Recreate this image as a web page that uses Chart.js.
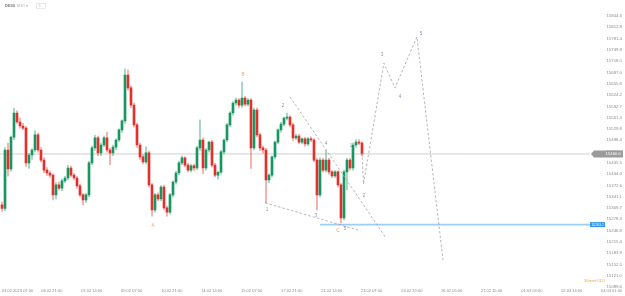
<!DOCTYPE html>
<html>
<head>
<meta charset="utf-8">
<script src="https://cdn.jsdelivr.net/npm/chart.js@4"></script>
<style>
  html, body { margin: 0; padding: 0; background: #fff; }
  canvas { display: block; }
</style>
</head>
<body>
<canvas id="chart" width="625" height="296"></canvas>
<script>
// candles, one per bar index
const candleOpen = [15318,15308,15471,15418,15507,15574,15549,15538,15532,15435,15457,15471,15513,15471,15443,15415,15407,15401,15346,15374,
  15365,15385,15393,15421,15401,15393,15371,15346,15332,15346,15435,15477,15505,15463,15485,15505,15471,15463,15479,15499,
  15527,15552,15680,15644,15596,15541,15485,15452,15438,15463,15374,15304,15346,15335,15368,15310,15298,15346,15382,15407,
  15435,15449,15429,15415,15427,15421,15477,15499,15421,15471,15493,15429,15401,15409,15466,15499,15541,15574,15602,15610,
  15596,15616,15599,15610,15477,15582,15513,15477,15471,15388,15401,15452,15493,15527,15543,15560,15563,15541,15505,15510,
  15493,15502,15488,15502,15499,15443,15346,15443,15415,15443,15410,15399,15410,15374,15282,15410,15443,15421,15485,15493,15490];
const candleHigh = [15326,15478,15490,15510,15588,15580,15560,15545,15536,15462,15475,15525,15518,15478,15450,15422,15412,15405,15380,15382,
  15390,15398,15428,15426,15406,15398,15376,15350,15350,15440,15482,15512,15510,15490,15510,15520,15476,15485,15502,15530,
  15555,15697,15694,15650,15602,15546,15490,15458,15480,15468,15378,15350,15352,15372,15373,15315,15350,15385,15412,15440,
  15455,15452,15434,15432,15432,15482,15555,15505,15476,15496,15498,15434,15412,15470,15502,15545,15578,15605,15616,15614,
  15660,15620,15614,15614,15588,15588,15518,15482,15476,15405,15455,15496,15530,15548,15563,15574,15566,15546,15515,15515,
  15505,15506,15506,15508,15503,15448,15450,15448,15471,15448,15414,15414,15414,15378,15415,15448,15448,15490,15500,15500,15494];
const candleLow = [15300,15302,15398,15412,15500,15545,15532,15528,15425,15420,15445,15465,15465,15438,15408,15400,15395,15332,15335,15360,
  15358,15380,15388,15396,15388,15365,15340,15318,15325,15340,15430,15470,15455,15455,15480,15465,15430,15455,15472,15494,
  15520,15545,15638,15590,15535,15478,15445,15432,15432,15368,15287,15298,15330,15330,15305,15287,15292,15340,15376,15402,
  15430,15424,15410,15410,15414,15416,15470,15405,15415,15465,15424,15396,15390,15404,15460,15494,15536,15568,15596,15590,
  15590,15593,15594,15420,15472,15508,15470,15462,15323,15380,15396,15446,15488,15521,15538,15555,15535,15498,15500,15488,
  15488,15482,15483,15494,15438,15304,15340,15410,15410,15404,15394,15394,15368,15268,15276,15360,15415,15415,15478,15486,15454];
const candleClose = [15308,15471,15418,15507,15574,15549,15538,15532,15435,15457,15471,15513,15471,15443,15415,15407,15401,15346,15374,15365,
  15385,15393,15421,15401,15393,15371,15346,15332,15346,15435,15477,15505,15463,15485,15505,15471,15463,15479,15499,15527,
  15552,15680,15644,15596,15541,15485,15452,15438,15463,15374,15304,15346,15335,15368,15310,15298,15346,15382,15407,15435,
  15449,15429,15415,15427,15421,15477,15499,15421,15471,15493,15429,15401,15409,15466,15499,15541,15574,15602,15610,15596,
  15616,15599,15610,15477,15582,15513,15477,15471,15388,15401,15452,15493,15527,15543,15560,15563,15541,15505,15510,15493,
  15502,15488,15502,15499,15443,15346,15443,15415,15443,15410,15399,15410,15374,15282,15410,15443,15421,15485,15493,15490,15460];

// wave lines (bar index, price)
const lowerWedgeX = [87.7, 119.5];
const lowerWedgeY = [15324, 15246];
const upperWedgeX = [96, 128];
const upperWedgeY = [15619, 15226];
const projX = [120, 120.5, 127.3, 131, 138.3, 147];
const projY = [15463, 15376, 15713, 15644, 15786, 15165];

// wave labels
const waveText = ['A', 'B', '1', '2', '3', '4', '5', 'C', '1', '2', '3', '4', '5'];
const waveX = [50.3, 80.3, 88.3, 93.7, 104.7, 108, 114.3, 112, 116.3, 120.7, 126.7, 132.7, 139.7];
const waveY = [15259, 15680, 15304, 15594, 15287, 15488, 15251, 15245, 15482, 15343, 15736, 15619, 15794];

const targetLevel = 15263.2;
const targetFrom = 106;
const lineEnd = 196;

const xTickPos = [0, 16.6, 29.9, 43.2, 56.6, 69.9, 83.2, 96.6, 109.9, 123.2, 136.6, 149.9, 163.2, 176.6, 189.9, 206.7];
const xTickLabels = ['03.02.2023 07:00', '06.02 21:00', '07.02 14:00', '09.02 07:00', '10.02 21:00', '14.02 14:00',
  '15.02 07:00', '17.02 21:00', '21.02 14:00', '23.02 07:00', '24.02 19:00', '26.02 05:00', '27.02 15:00',
  '01.03 03:00', '02.03 14:00', '04.03 01:00'];
const yTicks = [15089.6, 15121.0, 15152.5, 15183.9, 15215.4, 15246.8, 15278.3, 15309.7, 15341.1, 15372.6, 15404.0,
  15435.5, 15467.0, 15498.4, 15529.8, 15561.3, 15592.7, 15624.2, 15655.6, 15687.0, 15718.5, 15749.9, 15781.4,
  15812.8, 15844.3];

const UP = '#17965f';
const DOWN = '#e2302d';
const UP_WICK = 'rgba(23,150,95,0.45)';
const DOWN_WICK = 'rgba(226,48,45,0.45)';
const isUp = i => candleClose[i] >= candleOpen[i];

const lastPrice = candleClose[candleClose.length - 1];

const pts = (xs, ys) => xs.map((x, i) => ({ x, y: ys[i] }));

const overlay = {
  id: 'overlay',
  afterDraw(chart) {
    const c = chart.ctx;
    const xs = chart.scales.x, ys = chart.scales.y;
    c.save();
    c.textBaseline = 'middle';
    c.textAlign = 'center';
    c.font = '4.5px "Liberation Sans", Arial, sans-serif';
    waveText.forEach((t, i) => {
      c.fillStyle = /[A-C]/.test(t) ? '#f0a15a' : '#8a8bbd';
      c.fillText(t, xs.getPixelForValue(waveX[i]), ys.getPixelForValue(waveY[i]));
    });

    // current price box
    let y = ys.getPixelForValue(lastPrice);
    c.fillStyle = '#9a9a9a';
    c.beginPath();
    c.moveTo(591, y);
    c.lineTo(594, y - 3.5);
    c.lineTo(623, y - 3.5);
    c.lineTo(623, y + 3.5);
    c.lineTo(594, y + 3.5);
    c.closePath();
    c.fill();
    c.fillStyle = '#fff';
    c.textAlign = 'right';
    c.font = '4.3px "Liberation Sans", Arial, sans-serif';
    c.fillText(lastPrice.toFixed(1), 621, y + 0.3);

    // target box
    y = ys.getPixelForValue(targetLevel);
    c.fillStyle = '#2f95f0';
    c.fillRect(590, y - 2.5, 15, 5);
    c.fillStyle = '#fff';
    c.font = '3.5px "Liberation Sans", Arial, sans-serif';
    c.textAlign = 'center';
    c.fillText(targetLevel.toFixed(1), 597.5, y + 0.2);

    // header
    c.textAlign = 'left';
    c.font = 'bold 4px "Liberation Sans", Arial, sans-serif';
    c.fillStyle = '#777';
    c.fillText('DE30', 5, 6);
    c.font = '4px "Liberation Sans", Arial, sans-serif';
    c.fillStyle = '#b5b5b5';
    c.fillText('M30 ▾', 17, 6);
    c.strokeStyle = '#dcdcdc';
    c.lineWidth = 0.6;
    c.strokeRect(36.5, 3.5, 9, 5);
    c.fillStyle = '#aaa';
    c.fillText('≡', 38.5, 6);

    // footer
    c.font = '4px "Liberation Sans", Arial, sans-serif';
    c.fillStyle = '#f3a13c';
    c.fillText('30min', 584, 281);
    c.fillStyle = '#c4c4c4';
    c.fillText('H1', 595, 281);
    c.fillStyle = '#f3a13c';
    c.fillText('D1', 600, 281);
    c.restore();
  }
};

new Chart(document.getElementById('chart').getContext('2d'), {
  type: 'bar',
  data: {
    datasets: [
      {
        type: 'line', data: pts(projX, projY), borderColor: '#a3a3a3', borderWidth: 0.8,
        borderDash: [2.5, 2], pointRadius: 0, order: 1
      },
      {
        type: 'line', data: pts(upperWedgeX, upperWedgeY), borderColor: '#a3a3a3', borderWidth: 0.8,
        borderDash: [2.5, 2], pointRadius: 0, order: 1
      },
      {
        type: 'line', data: pts(lowerWedgeX, lowerWedgeY), borderColor: '#a3a3a3', borderWidth: 0.8,
        borderDash: [2.5, 2], pointRadius: 0, order: 1
      },
      {
        type: 'line', data: [{ x: targetFrom, y: targetLevel }, { x: lineEnd, y: targetLevel }],
        borderColor: 'rgba(140,196,248,0.85)', borderWidth: 1.6, pointRadius: 0, order: 2
      },
      {
        label: 'body', data: candleOpen.map((o, i) => ({ x: i, y: [o, candleClose[i]] })),
        backgroundColor: c => isUp(c.dataIndex) ? UP : DOWN,
        barThickness: 2, minBarLength: 1, grouped: false, order: 3
      },
      {
        label: 'wick', data: candleLow.map((l, i) => ({ x: i, y: [l, candleHigh[i]] })),
        backgroundColor: c => isUp(c.dataIndex) ? UP_WICK : DOWN_WICK,
        barThickness: 1, grouped: false, order: 4
      },
      {
        type: 'line', data: [{ x: -1, y: lastPrice }, { x: lineEnd, y: lastPrice }],
        borderColor: '#cfcfcf', borderWidth: 1, pointRadius: 0, order: 5
      }
    ]
  },
  options: {
    responsive: false,
    animation: false,
    layout: { padding: 0, autoPadding: false },
    plugins: { legend: { display: false }, tooltip: { enabled: false } },
    scales: {
      x: {
        type: 'linear', min: -0.667, max: 207.67, offset: false,
        grid: { display: false, drawTicks: false, offset: false }, border: { display: false },
        afterBuildTicks: s => { s.ticks = xTickPos.map(v => ({ value: v })); },
        afterFit: s => { s.height = 8.5; s.paddingLeft = 0; s.paddingRight = 0; },
        ticks: {
          autoSkip: false, maxRotation: 0, align: 'inner', padding: 0.5,
          color: '#8c8c8c', font: { size: 4, family: '"Liberation Sans", Arial, sans-serif' },
          callback: (v, i) => xTickLabels[i]
        }
      },
      y: {
        position: 'right', min: 15088, max: 15888.9,
        grid: { display: false, drawTicks: false }, border: { display: false },
        afterBuildTicks: s => { s.ticks = yTicks.map(v => ({ value: v })); },
        afterFit: s => { s.width = 0; s.paddingTop = 0; s.paddingBottom = 0; },
        ticks: {
          autoSkip: false, mirror: true, padding: -3,
          color: '#8c8c8c', font: { size: 4.3, family: '"Liberation Sans", Arial, sans-serif' },
          callback: v => v.toFixed(1)
        }
      }
    }
  },
  plugins: [overlay]
});
</script>
</body>
</html>
